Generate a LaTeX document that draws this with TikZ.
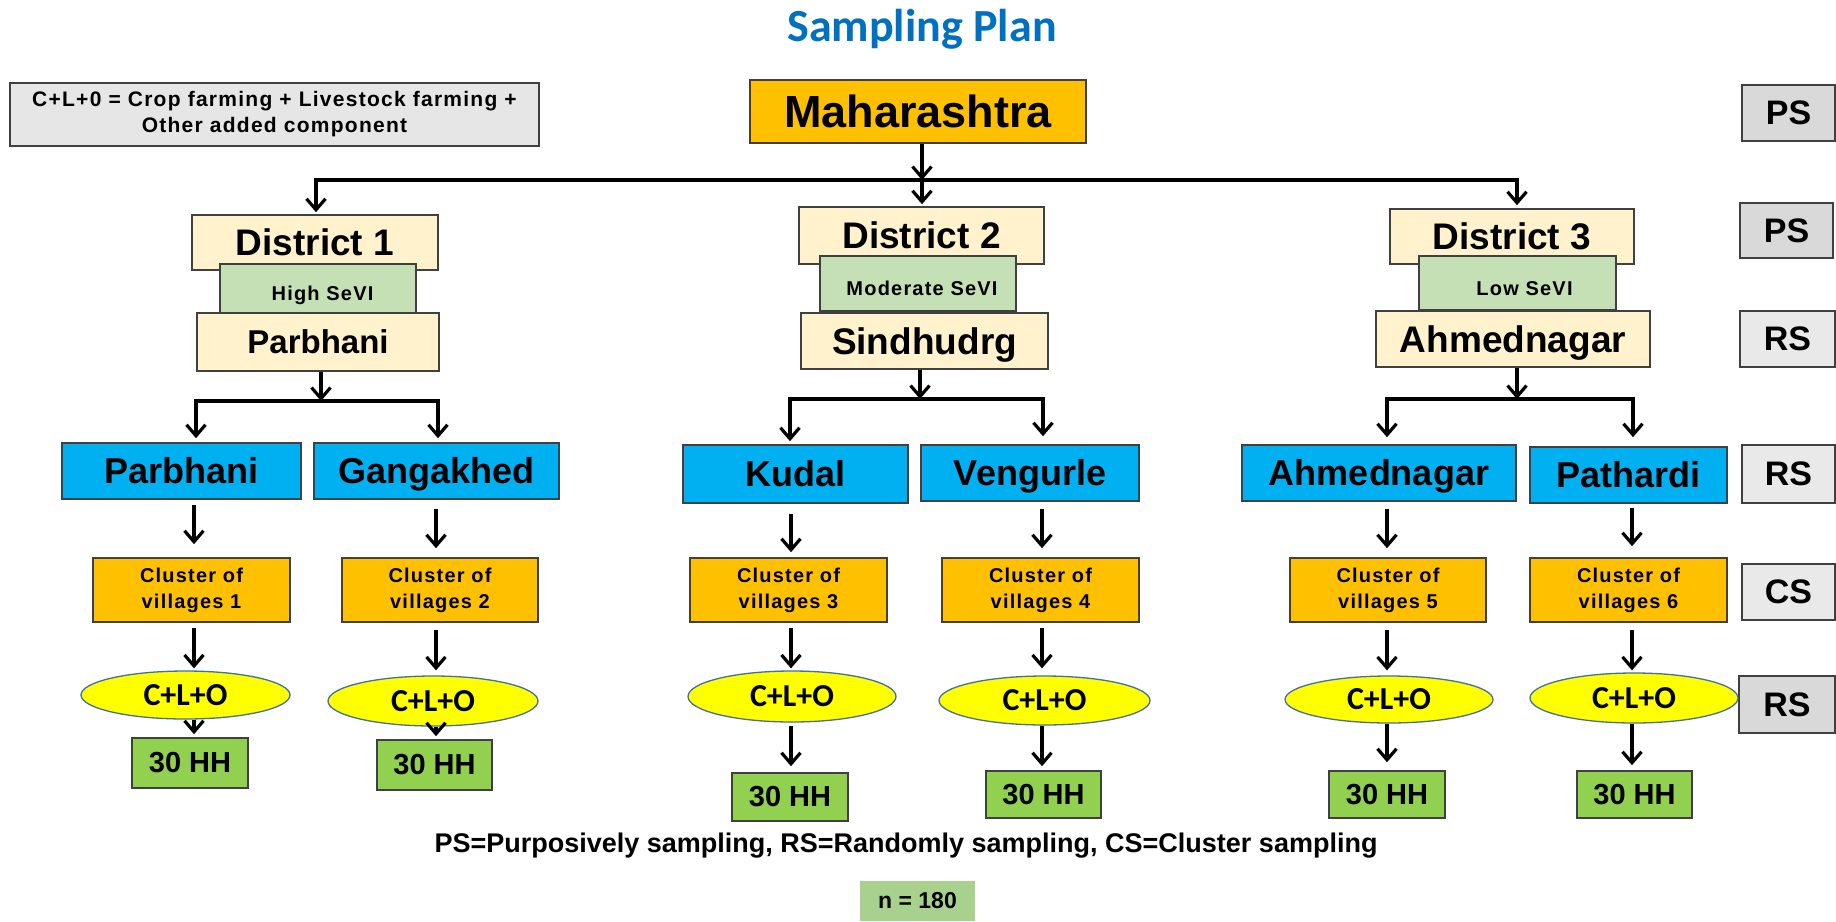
\documentclass[tikz,border=0pt]{standalone}
\usepackage{fontspec}
\setmainfont{Liberation Sans}
\newfontfamily\calfont{Carlito}
\newfontfamily\spfont[LetterSpace=6]{Liberation Sans}
\usetikzlibrary{arrows.meta,shapes.geometric}
\definecolor{orng}{HTML}{FFC000}
\definecolor{beigec}{HTML}{FFF2CC}
\definecolor{sevi}{HTML}{C5E0B4}
\definecolor{bluec}{HTML}{00B0F0}
\definecolor{yel}{HTML}{FFFF00}
\definecolor{hh}{HTML}{92D050}
\definecolor{nbox}{HTML}{A9D18E}
\definecolor{grayd}{HTML}{D9D9D9}
\definecolor{grayl}{HTML}{E9E9E9}
\definecolor{legendc}{HTML}{E7E6E6}
\definecolor{titlec}{HTML}{0070C0}
\definecolor{bord}{HTML}{404040}
\definecolor{ellb}{HTML}{41719C}
\newcommand\myfs[1]{\fontsize{#1}{#1}\selectfont\bfseries}
\begin{document}
\begin{tikzpicture}[x=1pt,y=-1pt,
  bx/.style={draw=bord, line width=1.6pt, inner sep=0pt},
  sz/.style 2 args={minimum width=#1pt, minimum height=#2pt},
  beige/.style={bx, fill=beigec},
  seviS/.style={bx, fill=sevi, font=\spfont\myfs{20}, text height=24pt, text depth=0pt},
  blu/.style={bx, fill=bluec, font=\myfs{36}, text height=25.8pt, text depth=0pt},
  clus/.style={bx, fill=orng, align=center, font=\spfont\fontsize{20}{26}\selectfont\bfseries},
  ell/.style={ellipse, draw=ellb, line width=1.3pt, fill=yel, inner sep=0pt, font=\calfont\myfs{32}},
  hhb/.style={bx, fill=hh, font=\myfs{29}},
  lab/.style={bx, line width=2pt, font=\myfs{34}},
  arr/.style={line width=3.2pt, -{Straight Barb[length=11pt,width=19pt]}},
]
\fill[white] (0,0) rectangle (1836,921);
\useasboundingbox (0,0) rectangle (1836,921);

% title and legend
\node[font=\calfont\myfs{46}, text=titlec, text depth=0pt, inner sep=0pt] (title) at (922,25) {Sampling Plan};
\node[bx, fill=legendc, sz={529}{63}, align=center, font=\spfont\fontsize{21}{26}\selectfont\bfseries] (leg) at (274.5,114.5) {C+L+0 = Crop farming + Livestock farming +\\Other added component};

\node[bx, fill=orng, sz={336}{63}, font=\myfs{45}] (mah) at (918,111.5) {Maharashtra};

% right-hand labels
\node[lab, fill=grayd, sz={93}{56}] (ps1) at (1788.5,113) {PS};
\node[lab, fill=grayd, sz={93}{55}] (ps2) at (1786.5,230.5) {PS};
\node[lab, fill=grayl, sz={95}{56}] (rs1) at (1787.5,339) {RS};
\node[lab, fill=grayl, sz={93}{58}] (rs2) at (1788.5,474) {RS};
\node[lab, fill=grayl, sz={93}{56}] (cs) at (1788.5,592) {CS};
\node[lab, fill=grayd, sz={96}{57}] (rs3) at (1787,704.5) {RS};

% districts
\node[beige, sz={246}{55}, font=\myfs{37}, text height=26.5pt, text depth=0pt] (d1) at (315,242.5) {District 1};
\node[beige, sz={245}{57}, font=\myfs{37}, text height=26.5pt, text depth=0pt] (d2) at (921.5,235.5) {District 2};
\node[beige, sz={244}{55}, font=\myfs{37}, text height=26.5pt, text depth=0pt] (d3) at (1512,236.5) {District 3};

\node[seviS, sz={196}{49}] (g1) at (318,288.5) {\hspace*{9pt}High SeVI};
\node[seviS, sz={196}{55}] (g2) at (918,283.5) {\hspace*{8pt}Moderate SeVI};
\node[seviS, sz={197}{54}] (g3) at (1517.5,283) {\hspace*{14pt}Low SeVI};

\node[beige, sz={242}{58}, font=\myfs{33}, text height=23.6pt, text depth=0pt] (pbd) at (318,342) {Parbhani};
\node[beige, sz={247}{56}, font=\myfs{37}, text height=26.5pt, text depth=0pt] (sin) at (924.5,341) {Sindhudrg};
\node[beige, sz={274}{56}, font=\myfs{37}, text height=26.5pt, text depth=0pt] (ahd) at (1513,339) {Ahmednagar};

% blocks
\node[blu, sz={239}{56}] (b1) at (181.5,471) {Parbhani};
\node[blu, sz={245}{56}] (b2) at (436.5,471) {Gangakhed};
\node[blu, sz={225}{58}] (b3) at (795.5,474) {Kudal};
\node[blu, sz={218}{56}] (b4) at (1030,473) {Vengurle};
\node[blu, sz={274}{56}] (b5) at (1379,473) {Ahmednagar};
\node[blu, sz={197}{56}] (b6) at (1628.5,475) {Pathardi};

% clusters
\node[clus, sz={197}{64}] (c1) at (191.5,590) {Cluster of\\villages 1};
\node[clus, sz={196}{64}] (c2) at (440,590) {Cluster of\\villages 2};
\node[clus, sz={197}{64}] (c3) at (788.5,590) {Cluster of\\villages 3};
\node[clus, sz={197}{64}] (c4) at (1040.5,590) {Cluster of\\villages 4};
\node[clus, sz={196}{64}] (c5) at (1388,590) {Cluster of\\villages 5};
\node[clus, sz={197}{64}] (c6) at (1628.5,590) {Cluster of\\villages 6};

% C+L+O
\node[ell, sz={209}{48}] (e1) at (185.5,695) {C+L+O};
\node[ell, sz={210}{50}] (e2) at (433,701) {C+L+O};
\node[ell, sz={208}{51}] (e3) at (792,696.5) {C+L+O};
\node[ell, sz={211}{49}] (e4) at (1044.5,700.5) {C+L+O};
\node[ell, sz={208}{47}] (e5) at (1389,699.5) {C+L+O};
\node[ell, sz={208}{50}] (e6) at (1634,698) {C+L+O};

% households
\node[hhb, sz={116}{50}] (h1) at (190,763) {30 HH};
\node[hhb, sz={115}{50}] (h2) at (434.5,765) {30 HH};
\node[hhb, sz={116}{48}] (h3) at (790,797) {30 HH};
\node[hhb, sz={115}{47}] (h4) at (1043.5,794.5) {30 HH};
\node[hhb, sz={116}{47}] (h5) at (1387,794.5) {30 HH};
\node[hhb, sz={115}{47}] (h6) at (1634.5,794.5) {30 HH};

\node[font=\myfs{27}, inner sep=0pt] (note) at (906,846) {PS=Purposively sampling, RS=Randomly sampling, CS=Cluster sampling};
\node[fill=nbox, sz={115}{40}, inner sep=0pt, font=\myfs{23}] (nn) at (917.5,901) {n = 180};

% top connectors
\coordinate (jt) at (922,180);
\draw[arr] (mah.south -| jt) -- (jt);
\draw[arr, shorten >=2pt] (jt) -| ([xshift=1pt]d1.north);
\draw[arr, shorten >=3pt] (jt) -| ([xshift=5pt]d3.north);
\draw[arr, shorten >=2pt] (jt) -- (jt |- d2.north);

% group connectors
\coordinate (j1) at (321,401);
\draw[arr] (pbd.south -| j1) -- (j1);
\draw[arr, shorten >=4pt] (j1) -| ([xshift=14.5pt]b1.north);
\draw[arr, shorten >=4pt] (j1) -| ([xshift=1.5pt]b2.north);
\coordinate (j2) at (920,399);
\draw[arr] (sin.south -| j2) -- (j2);
\draw[arr, shorten >=3pt] (j2) -| ([xshift=-5.5pt]b3.north);
\draw[arr, shorten >=8pt] (j2) -| ([xshift=13pt]b4.north);
\coordinate (j3) at (1517,399);
\draw[arr] (ahd.south -| j3) -- (j3);
\draw[arr, shorten >=7pt] (j3) -| ([xshift=8pt]b5.north);
\draw[arr, shorten >=9pt] (j3) -| ([xshift=4.5pt]b6.north);

% column connectors
\coordinate (x1) at (194,0);
\coordinate (x2) at (436,0);
\coordinate (x3) at (791,0);
\coordinate (x4) at (1042,0);
\coordinate (x5) at (1387,0);
\coordinate (x6) at (1632,0);
\draw[arr, shorten <=5pt, shorten >=13pt] (b1.south -| x1) -- (c1.north -| x1);
\draw[arr, shorten <=5pt, shorten >=2pt] (c1.south -| x1) -- (e1.north -| x1);
\draw[arr, shorten >=3pt] (e1.south -| x1) -- (h1.north -| x1);
\draw[arr, shorten <=9pt, shorten >=9pt] (b2.south -| x2) -- (c2.north -| x2);
\draw[arr, shorten <=7pt, shorten >=5pt] (c2.south -| x2) -- (e2.north -| x2);
\draw[arr, shorten >=3pt] (e2.south -| x2) -- (h2.north -| x2);
\draw[arr, shorten <=10pt, shorten >=5pt] (b3.south -| x3) -- (c3.north -| x3);
\draw[arr, shorten <=5pt, shorten >=2pt] (c3.south -| x3) -- (e3.north -| x3);
\draw[arr, shorten <=3pt, shorten >=6pt] (e3.south -| x3) -- (h3.north -| x3);
\draw[arr, shorten <=7pt, shorten >=9pt] (b4.south -| x4) -- (c4.north -| x4);
\draw[arr, shorten <=5pt, shorten >=7pt] (c4.south -| x4) -- (e4.north -| x4);
\draw[arr, shorten >=4pt] (e4.south -| x4) -- (h4.north -| x4);
\draw[arr, shorten <=7pt, shorten >=9pt] (b5.south -| x5) -- (c5.north -| x5);
\draw[arr, shorten <=7pt, shorten >=5pt] (c5.south -| x5) -- (e5.north -| x5);
\draw[arr, shorten >=8pt] (e5.south -| x5) -- (h5.north -| x5);
\draw[arr, shorten <=4pt, shorten >=11pt] (b6.south -| x6) -- (c6.north -| x6);
\draw[arr, shorten <=7pt, shorten >=2pt] (c6.south -| x6) -- (e6.north -| x6);
\draw[arr, shorten >=5pt] (e6.south -| x6) -- (h6.north -| x6);
\end{tikzpicture}
\end{document}
